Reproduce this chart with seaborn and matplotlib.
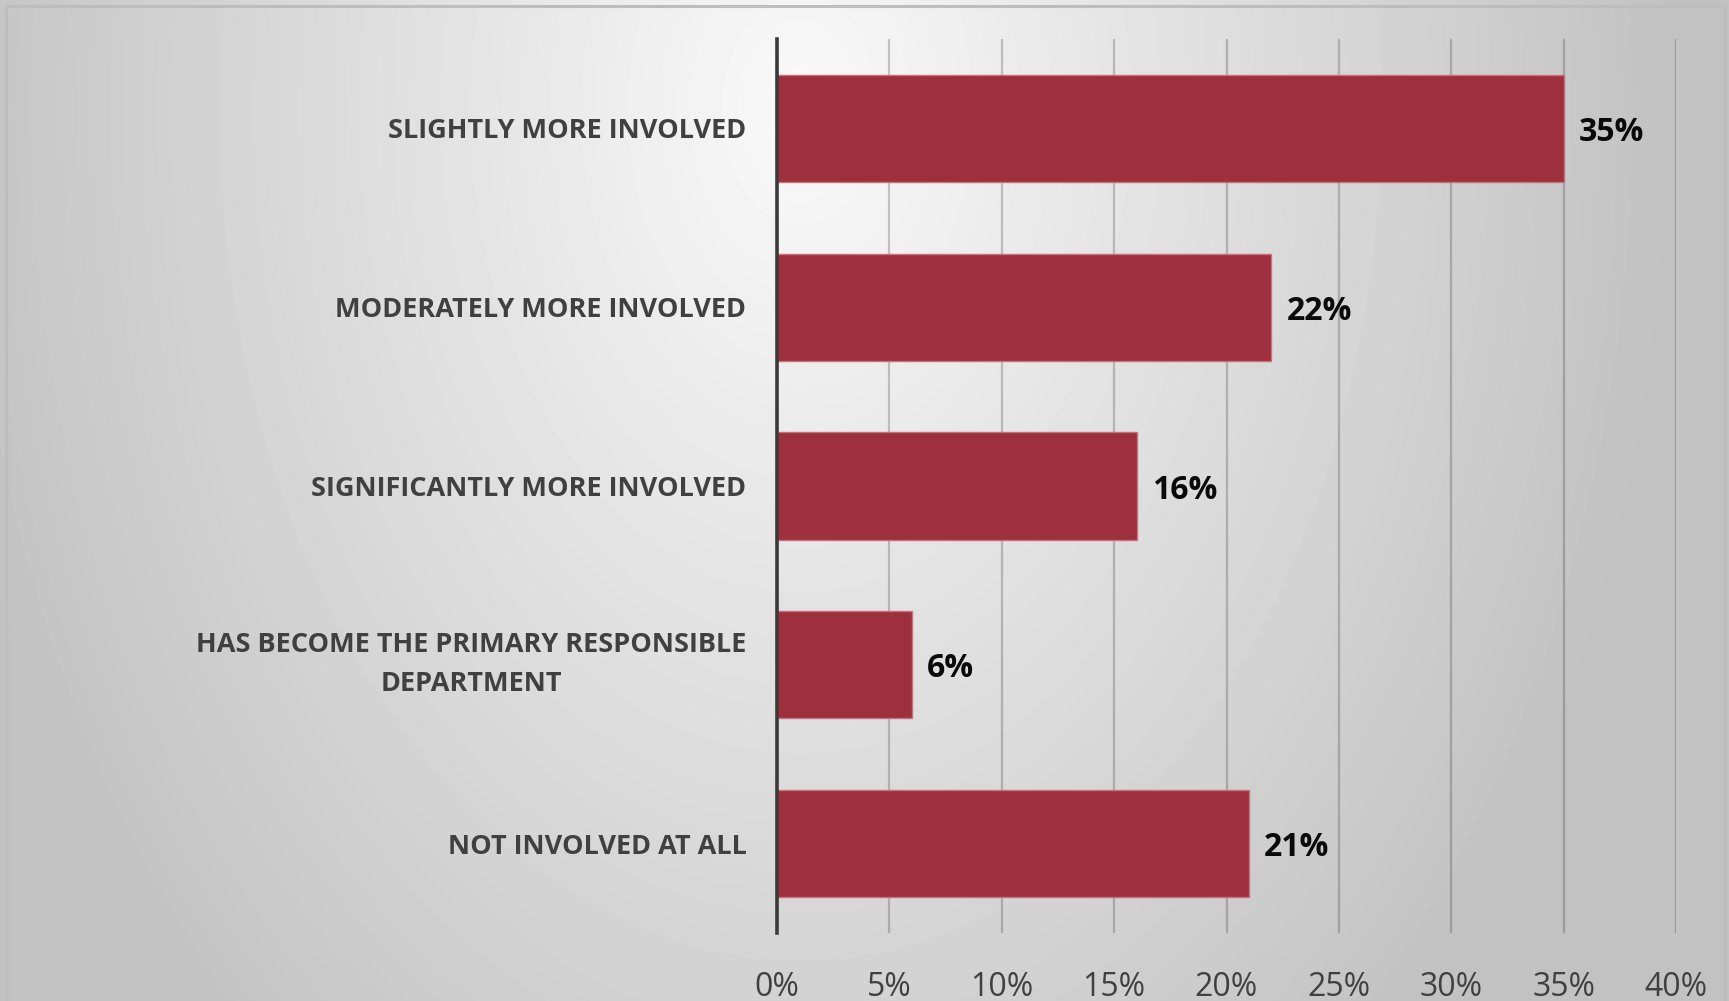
import numpy as np
import pandas as pd
import matplotlib
matplotlib.use("Agg")
import matplotlib.pyplot as plt
import seaborn as sns

categories = [
    "SLIGHTLY MORE INVOLVED",
    "MODERATELY MORE INVOLVED",
    "SIGNIFICANTLY MORE INVOLVED",
    "HAS BECOME THE PRIMARY RESPONSIBLE\nDEPARTMENT",
    "NOT INVOLVED AT ALL",
]
shares = [35, 22, 16, 6, 21]
x_ticks = [0, 5, 10, 15, 20, 25, 30, 35, 40]
x_tick_labels = [f"{t}%" for t in x_ticks]

df = pd.DataFrame({"category": categories, "share": shares})

sns.set_theme(style="white")
plt.rcParams["font.family"] = ["Open Sans", "DejaVu Sans"]

W, H, DPI = 1729, 1001, 100
fig = plt.figure(figsize=(W / DPI, H / DPI), dpi=DPI)

# radial grey background
bg = fig.add_axes([0, 0, 1, 1], zorder=-10)
yy, xx = np.mgrid[0:H, 0:W]
r = np.sqrt(((xx - 800) / 820.0) ** 2 + ((yy - 110) / 1200.0) ** 2)
val = np.clip(249 - 52 * r, 194, 255) / 255.0
bg.imshow(val, cmap="gray", vmin=0, vmax=1, extent=[0, W, H, 0], aspect="auto",
          interpolation="bilinear")
bg.plot([6.5, 6.5, 1725, 1725], [H + 5, 5.5, 5.5, H + 5], color="#bdbdbd", lw=2.2)
bg.set_xlim(0, W)
bg.set_ylim(H, 0)
bg.axis("off")

ax = fig.add_axes([777 / W, 1 - 933 / H, (1676 - 777) / W, (933 - 39) / H])
ax.patch.set_alpha(0)

sns.barplot(data=df, y="category", x="share", orient="h", color="#9e2f3c",
            saturation=1, width=0.6, edgecolor="#c9707c", linewidth=1.0, ax=ax,
            zorder=3)

ax.set_xlim(0, 40)
ax.set_ylim(4.5, -0.5)
ax.set_xticks(x_ticks)
ax.set_xticklabels(x_tick_labels)
ax.grid(axis="x", color="#000000", alpha=0.2, lw=1.6, zorder=0)
ax.set_axisbelow(True)
for s in ["top", "right", "bottom"]:
    ax.spines[s].set_visible(False)
ax.spines["left"].set_color("#3a3a3a")
ax.spines["left"].set_linewidth(2.6)
ax.spines["left"].set_zorder(5)
ax.set_xlabel("")
ax.set_ylabel("")
ax.tick_params(axis="x", length=0, pad=27, labelsize=23, labelcolor="#404040")
ax.tick_params(axis="y", length=0, pad=22, labelcolor="#404040")
for lbl in ax.get_yticklabels():
    lbl.set_fontsize(19.5)
    lbl.set_fontweight("bold")
    lbl.set_multialignment("center")
    lbl.set_linespacing(1.65)
    if "\n" in lbl.get_text():
        lbl.set_verticalalignment("center")

for i, v in enumerate(shares):
    ax.annotate(f"{v}%", xy=(v, i), xytext=(11, -3), textcoords="offset points",
                ha="left", va="center", fontsize=23, fontweight="bold",
                color="#0a0a0a", zorder=6)

fig.savefig("out.png", dpi=DPI)
